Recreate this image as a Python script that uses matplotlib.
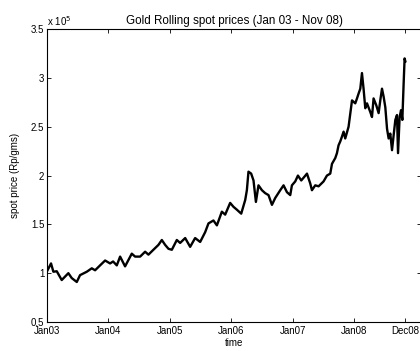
import numpy as np
import matplotlib
matplotlib.use('Agg')
import matplotlib.pyplot as plt
from matplotlib.ticker import FuncFormatter

plt.rcParams['font.family'] = ['Liberation Sans', 'DejaVu Sans']
plt.rcParams['font.size'] = 7

# years since Jan 2003
t = [0.000, 0.065, 0.103, 0.158, 0.239, 0.347, 0.402, 0.484, 0.537, 0.647,
     0.728, 0.782, 0.863, 0.945, 1.026, 1.075, 1.135, 1.189, 1.270, 1.379,
     1.433, 1.515, 1.596, 1.650, 1.731, 1.813, 1.868, 1.922, 1.976, 2.031,
     2.112, 2.166, 2.248, 2.329, 2.410, 2.492, 2.573, 2.627, 2.708, 2.764,
     2.845, 2.899, 2.980, 3.034, 3.090, 3.160, 3.225, 3.252, 3.278, 3.322,
     3.360, 3.399, 3.441, 3.497, 3.550, 3.604, 3.660, 3.713, 3.795, 3.849,
     3.904, 3.958, 3.985, 4.039, 4.083, 4.137, 4.191, 4.230, 4.283, 4.311,
     4.365, 4.419, 4.500, 4.555, 4.609, 4.637, 4.691, 4.718, 4.744, 4.772,
     4.800, 4.826, 4.853, 4.907, 4.963, 5.016, 5.044, 5.070, 5.098, 5.125,
     5.151, 5.179, 5.207, 5.261, 5.288, 5.314, 5.358, 5.396, 5.423, 5.451,
     5.477, 5.505, 5.533, 5.559, 5.586, 5.614, 5.640, 5.668, 5.695, 5.712,
     5.738, 5.761, 5.782, 5.803, 5.819, 5.831]

# spot price in Rp/gms
price = [102000, 110000, 101500, 102000, 93000, 100000, 95000, 91000, 98000, 101500,
         105000, 103000, 108000, 113000, 110000, 112000, 108000, 117000, 107000, 120000,
         117000, 117000, 122000, 119000, 124000, 129000, 134000, 129000, 125000, 124000,
         134000, 131000, 136000, 127000, 136000, 132000, 142000, 151000, 154000, 149000,
         163000, 160000, 172000, 168000, 165000, 161000, 175000, 185000, 204000, 202000,
         195000, 173000, 190000, 185000, 182000, 180000, 170000, 177000, 185000, 190000,
         183000, 180000, 190000, 194000, 200000, 195000, 199000, 202000, 192000, 185000,
         190000, 189000, 194000, 200000, 202000, 212000, 218000, 223000, 231000, 235000,
         240000, 245000, 238000, 250000, 277000, 274000, 279000, 284000, 289000, 305000,
         289000, 269000, 274000, 265000, 260000, 279000, 272000, 264000, 277000, 289000,
         281000, 270000, 248000, 238000, 243000, 226000, 241000, 257000, 262000, 223000,
         260000, 267000, 257000, 294000, 320000, 317000]

tick_pos = [0, 1, 2, 3, 4, 5, 5.831]
tick_labels = ['Jan03', 'Jan04', 'Jan05', 'Jan06', 'Jan07', 'Jan08', 'Dec08']

fig = plt.figure(figsize=(4.2, 3.51), dpi=100)
ax = fig.add_axes([0.112, 0.0826, 0.891, 0.8344])
ax.plot(t, price, color='black', linewidth=1.7)

ax.set_xlim(0, 6.09)
ax.set_ylim(0.5e5, 3.5e5)
ax.set_xticks(tick_pos)
ax.set_xticklabels(tick_labels)
ax.set_yticks(np.arange(0.5e5, 3.51e5, 0.5e5))
ax.yaxis.set_major_formatter(FuncFormatter(lambda v, p: '%g' % (v / 1e5)))
ax.tick_params(direction='in', length=3, width=0.6, top=True, right=True, pad=2)
ax.tick_params(axis='x', pad=3)
for s in ax.spines.values():
    s.set_linewidth(0.8)

ax.text(0, 1.005, r'x 10$^5$', transform=ax.transAxes, ha='left', va='bottom')
ax.set_title('Gold Rolling spot prices (Jan 03 - Nov 08)', pad=4)
ax.set_xlabel('time', labelpad=1)
ax.set_ylabel('spot price (Rp/gms)', labelpad=8)

fig.savefig('out.png', dpi=100)
